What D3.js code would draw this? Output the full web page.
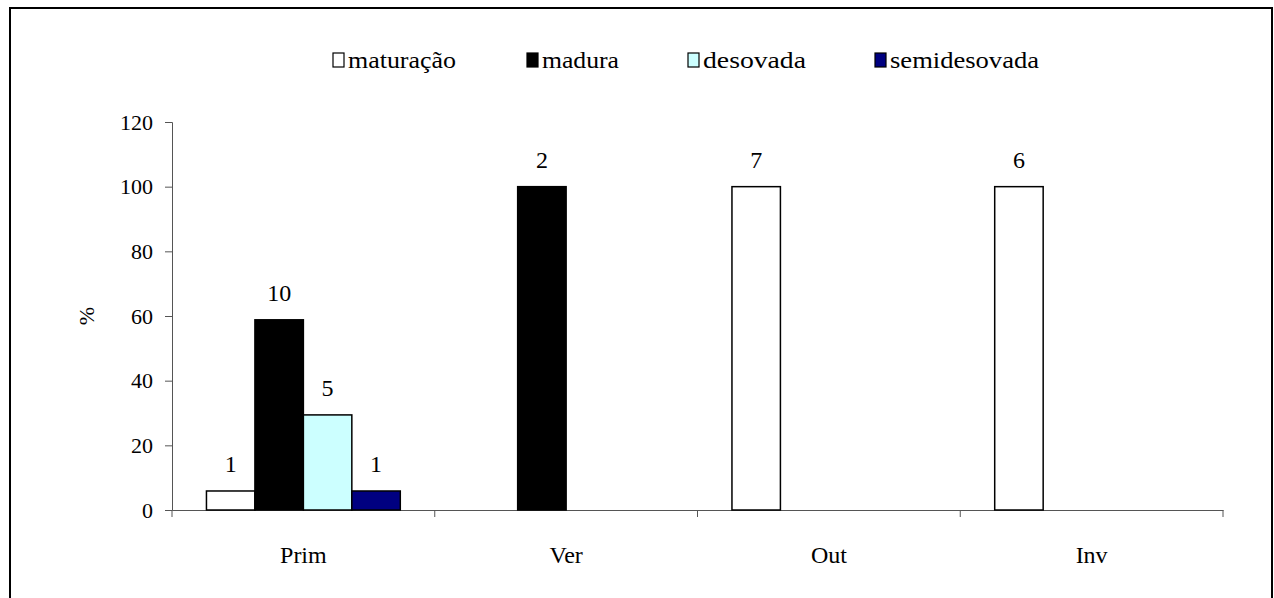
<!DOCTYPE html>
<html>
<head>
<meta charset="utf-8">
<script src="https://cdn.jsdelivr.net/npm/d3@7"></script>
<style>
  body { margin: 0; background: #fff; }
  svg text { font-family: "Liberation Serif", "Times New Roman", serif; fill: #000; }
</style>
</head>
<body>
<script>
// categories and series
var seasons = ["Prim", "Ver", "Out", "Inv"];
var stages = ["maturação", "madura", "desovada", "semidesovada"];
var stageColors = ["#ffffff", "#000000", "#ccffff", "#000080"];

// percent per stage, one array per season (null = no bar)
var prim = [5.88, 58.82, 29.41, 5.88];
var ver = [null, 100, null, null];
var out = [100, null, null, null];
var inv = [100, null, null, null];

// counts shown above the bars
var primN = [1, 10, 5, 1];
var verN = [null, 2, null, null];
var outN = [7, null, null, null];
var invN = [6, null, null, null];

var yTicks = [0, 20, 40, 60, 80, 100, 120];

var width = 1274, height = 598;
var margin = {left: 172, right: 51, top: 122, bottom: 88};

var svg = d3.select("body").append("svg")
    .attr("width", width)
    .attr("height", height);

// outer frame
svg.append("rect")
    .attr("x", 10).attr("y", 8)
    .attr("width", 1262).attr("height", 598)
    .attr("fill", "none")
    .attr("stroke", "#000")
    .attr("stroke-width", 2);

var x = d3.scaleBand()
    .domain(seasons)
    .range([margin.left, width - margin.right]);

var x1 = d3.scaleBand()
    .domain(stages)
    .range([0, x.bandwidth()])
    .paddingOuter(0.711);

var y = d3.scaleLinear()
    .domain([0, 120])
    .range([height - margin.bottom, margin.top]);

var color = d3.scaleOrdinal().domain(stages).range(stageColors);

// build flat rows for the bars
var values = [prim, ver, out, inv];
var counts = [primN, verN, outN, invN];
var rows = [];
seasons.forEach(function(s, i){
    stages.forEach(function(st, j){
        if (values[i][j] != null) {
            rows.push({season: s, stage: st, value: values[i][j], n: counts[i][j]});
        }
    });
});

// y axis
var yAxis = svg.append("g")
    .attr("transform", "translate(" + margin.left + ",0)")
    .call(d3.axisLeft(y).tickValues(yTicks).tickSize(7).tickPadding(12));
yAxis.selectAll("text").style("font-size", "22px");

// x axis with ticks between categories
var xAxis = svg.append("g")
    .attr("transform", "translate(0," + y(0) + ")")
    .call(d3.axisBottom(x).tickSize(0).tickPadding(36));
xAxis.selectAll("text").style("font-size", "24px");
xAxis.selectAll(".sep")
    .data(d3.range(seasons.length + 1))
    .enter().append("line")
    .attr("class", "sep")
    .attr("x1", function(d){ return margin.left + d * x.step(); })
    .attr("x2", function(d){ return margin.left + d * x.step(); })
    .attr("y1", 0).attr("y2", 7)
    .attr("stroke", "#555");

svg.selectAll(".domain").attr("stroke", "#555");
svg.selectAll(".tick line").attr("stroke", "#555");

// y label
svg.append("text")
    .attr("transform", "translate(94," + y(60) + ") rotate(-90)")
    .attr("text-anchor", "middle")
    .style("font-size", "22px")
    .text("%");

// bars
svg.selectAll(".bar")
    .data(rows)
    .enter().append("rect")
    .attr("class", "bar")
    .attr("x", function(d){ return x(d.season) + x1(d.stage); })
    .attr("y", function(d){ return y(d.value); })
    .attr("width", x1.bandwidth())
    .attr("height", function(d){ return y(0) - y(d.value); })
    .attr("fill", function(d){ return color(d.stage); })
    .attr("stroke", "#000")
    .attr("stroke-width", 1.5);

// count labels
svg.selectAll(".lbl")
    .data(rows)
    .enter().append("text")
    .attr("class", "lbl")
    .attr("x", function(d){ return x(d.season) + x1(d.stage) + x1.bandwidth() / 2; })
    .attr("y", function(d){ return y(d.value) - 19; })
    .attr("text-anchor", "middle")
    .style("font-size", "24px")
    .text(function(d){ return d.n; });

// legend
var legendX = [333, 527, 688, 875];
var legendLen = [108, 77, 103, 149];
var legend = svg.selectAll(".leg")
    .data(stages)
    .enter().append("g")
    .attr("class", "leg")
    .attr("transform", function(d, i){ return "translate(" + legendX[i] + ",53)"; });
legend.append("rect")
    .attr("width", 11).attr("height", 14)
    .attr("fill", function(d){ return color(d); })
    .attr("stroke", "#000")
    .attr("stroke-width", 1.2);
legend.append("text")
    .attr("x", 15).attr("y", 15)
    .attr("textLength", function(d, i){ return legendLen[i]; })
    .attr("lengthAdjust", "spacingAndGlyphs")
    .style("font-size", "24px")
    .text(function(d){ return d; });
</script>
</body>
</html>
